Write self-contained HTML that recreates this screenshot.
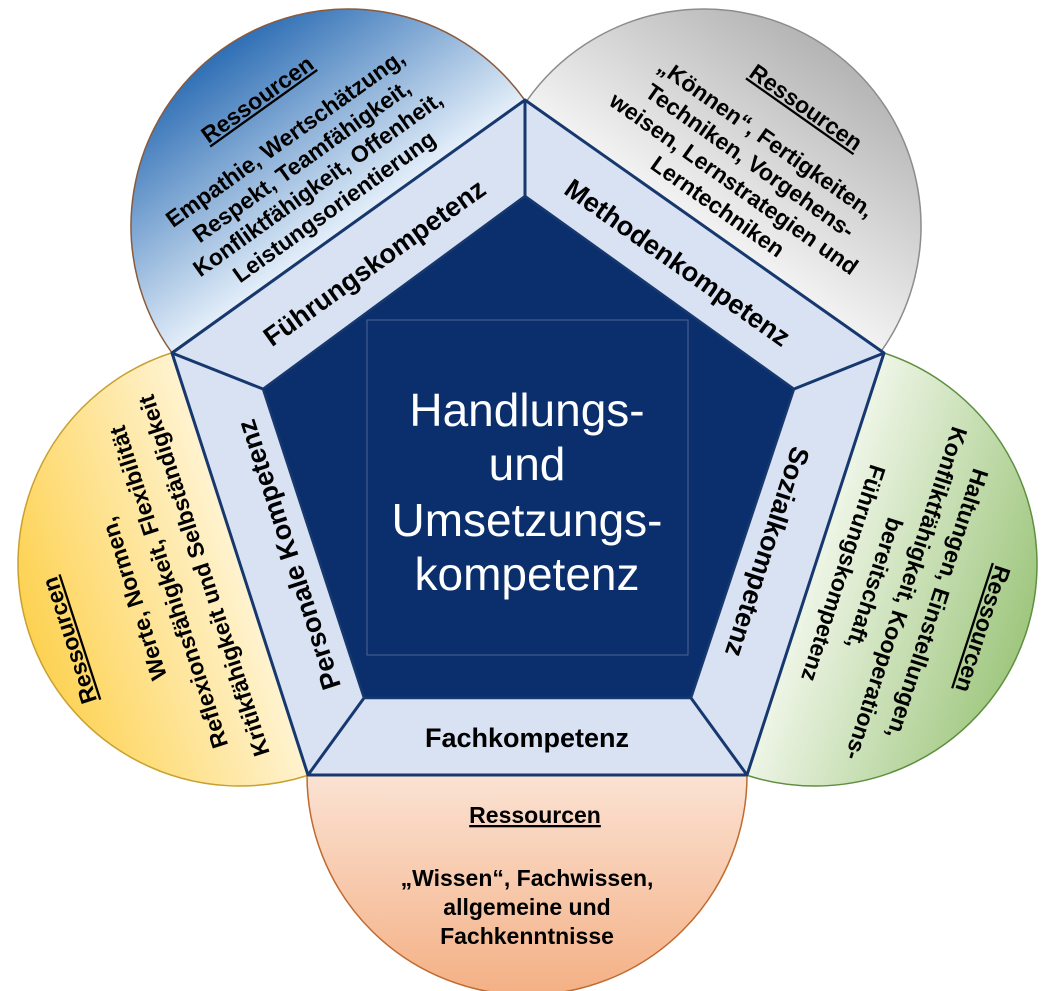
<!DOCTYPE html>
<html><head><meta charset="utf-8"><style>
html,body{margin:0;padding:0;background:#fff}
svg{display:block}
text{font-family:"Liberation Sans",Arial,sans-serif}
.r{font-weight:bold;font-size:23px;text-decoration:underline}
.t{font-weight:bold;font-size:23px}
.b{font-weight:bold;font-size:27px}
</style></head><body>
<svg width="1059" height="991" viewBox="0 0 1059 991" xmlns="http://www.w3.org/2000/svg">
<defs>
<linearGradient id="gUL" x1="0" y1="0" x2="0" y2="1"><stop offset="0" stop-color="#2f6fb5"/><stop offset="1" stop-color="#e3eef9"/></linearGradient>
<linearGradient id="gUR" x1="0" y1="0" x2="0" y2="1"><stop offset="0" stop-color="#b4b4b4"/><stop offset="1" stop-color="#f2f2f2"/></linearGradient>
<linearGradient id="gR" x1="0" y1="0" x2="0" y2="1"><stop offset="0" stop-color="#9fc77f"/><stop offset="1" stop-color="#eef5e6"/></linearGradient>
<linearGradient id="gL" x1="0" y1="0" x2="0" y2="1"><stop offset="0" stop-color="#fdd252"/><stop offset="1" stop-color="#fff3d0"/></linearGradient>
<linearGradient id="gB" x1="0" y1="0" x2="0" y2="1"><stop offset="0" stop-color="#fbe2d3"/><stop offset="1" stop-color="#f4b085"/></linearGradient>
</defs>

<g transform="translate(348,226) rotate(-35.6)">
<path d="M -217 0 A 217 217 0 0 1 217 0 Z" fill="url(#gUL)" stroke="#8a5a3a" stroke-width="1.5"/>
<g text-anchor="middle" fill="#000">
<text class="r" y="-148">Ressourcen</text>
<text class="t" y="-100">Empathie, Wertschätzung,</text>
<text class="t" y="-72">Respekt, Teamfähigkeit,</text>
<text class="t" y="-44">Konfliktfähigkeit, Offenheit,</text>
<text class="t" y="-16">Leistungsorientierung</text>
</g></g>

<g transform="translate(704,226) rotate(35.2)">
<path d="M -217 0 A 217 217 0 0 1 217 0 Z" fill="url(#gUR)" stroke="#8c8c8c" stroke-width="1.5"/>
<g text-anchor="middle" fill="#000">
<text class="r" x="15" y="-148">Ressourcen</text>
<text class="t" y="-100">„Können“, Fertigkeiten,</text>
<text class="t" y="-72">Techniken, Vorgehens-</text>
<text class="t" y="-44">weisen, Lernstrategien und</text>
<text class="t" y="-16">Lerntechniken</text>
</g></g>

<g transform="translate(815,564) rotate(108)">
<path d="M -222 0 A 222 222 0 0 1 222 0 Z" fill="url(#gR)" stroke="#5f8f3f" stroke-width="1.5"/>
<g text-anchor="middle" fill="#000">
<text class="r" x="10" y="-172">Ressourcen</text>
<text class="t" y="-121">Haltungen, Einstellungen,</text>
<text class="t" y="-88">Konfliktfähigkeit, Kooperations-</text>
<text class="t" y="-55">bereitschaft,</text>
<text class="t" y="-22">Führungskompetenz</text>
</g></g>

<g transform="translate(240,564) rotate(-108)">
<path d="M -222 0 A 222 222 0 0 1 222 0 Z" fill="url(#gL)" stroke="#c9a030" stroke-width="1.5"/>
<g text-anchor="middle" fill="#000">
<text class="r" x="-20" y="-178">Ressourcen</text>
<text class="t" y="-104">Werte, Normen,</text>
<text class="t" y="-67">Reflexionsfähigkeit, Flexibilität</text>
<text class="t" y="-30">Kritikfähigkeit und Selbständigkeit</text>
</g></g>

<g transform="translate(527,775)">
<path d="M -220 0 A 220 220 0 0 0 220 0 Z" fill="url(#gB)" stroke="#c06a30" stroke-width="1.5"/>
<g text-anchor="middle" fill="#000">
<text class="r" x="8" y="48">Ressourcen</text>
<text class="t" y="111">„Wissen“, Fachwissen,</text>
<text class="t" y="140">allgemeine und</text>
<text class="t" y="169">Fachkenntnisse</text>
</g></g>

<polygon points="525,100 884,353 747,775 308,775 172,353" fill="#d8e2f3" stroke="#17386e" stroke-width="3" stroke-linejoin="round"/>
<polygon points="525,196 794,389 691,698 364,698 263,389" fill="#0a2f6c" stroke="#17386e" stroke-width="2.5"/>
<g stroke="#17386e" stroke-width="3">
<line x1="525" y1="100" x2="525" y2="196"/>
<line x1="884" y1="353" x2="794" y2="389"/>
<line x1="747" y1="775" x2="691" y2="698"/>
<line x1="308" y1="775" x2="364" y2="698"/>
<line x1="172" y1="353" x2="263" y2="389"/>
</g>
<rect x="367" y="320" width="321" height="335" fill="none" stroke="#4a6496" stroke-width="1"/>

<g text-anchor="middle" fill="#000">
<text class="b" transform="translate(374,262) rotate(-35.6)" y="10">Führungskompetenz</text>
<text class="b" transform="translate(678,262) rotate(35.2)" y="10">Methodenkompetenz</text>
<text class="b" transform="translate(768,552) rotate(108)" y="10">Sozialkompetenz</text>
<text class="b" transform="translate(288,555) rotate(-108)" y="10">Personale Kompetenz</text>
<text class="b" x="527" y="747">Fachkompetenz</text>
</g>

<g text-anchor="middle" fill="#fff" font-size="46">
<text x="527" y="426">Handlungs-</text>
<text x="527" y="480">und</text>
<text x="527" y="536">Umsetzungs-</text>
<text x="527" y="590">kompetenz</text>
</g>
</svg>
</body></html>
